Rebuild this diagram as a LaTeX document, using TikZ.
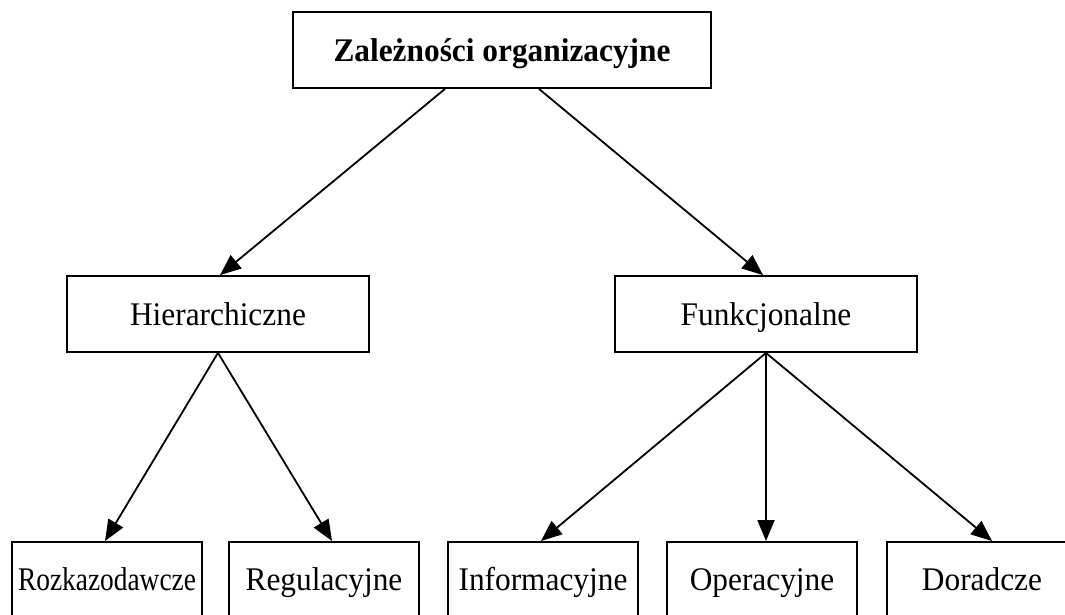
\documentclass[tikz,border=0pt]{standalone}
\usepackage{fontspec}
\setmainfont{Liberation Serif}
\usetikzlibrary{arrows.meta,calc}
% labels are set slightly condensed
\newcommand\condtext[2][0.95]{\scalebox{#1}[1]{#2}}
\begin{document}
\begin{tikzpicture}[x=1pt,y=-1pt,
  box/.style={draw, line width=1.8pt, minimum height=76pt, inner sep=0pt,
    text height=22pt, text depth=0pt, font=\fontsize{33}{38}\selectfont},
  midbox/.style={box, minimum width=302pt},
  leafbox/.style={box, minimum width=190pt, anchor=north},
  link/.style={line width=1.8pt, -{Triangle[length=21pt,width=17pt]}}]
\useasboundingbox (0,0) rectangle (1065,614);
\clip (0,0) rectangle (1065,614);
\fill[white] (0,0) rectangle (1065,614);

% top level
\node[box, minimum width=418pt, font=\fontsize{33}{38}\selectfont\bfseries]
  (root) at (502,50) {\condtext{Zależności organizacyjne}};

% second level
\node[midbox] (hier) at (218,314) {\condtext{Hierarchiczne}};
\node[midbox] (funk) at (766,314) {\condtext{Funkcjonalne}};

% third level
\node[leafbox] (rozk) at (107,541) {\condtext[0.83]{Rozkazodawcze}};
\node[leafbox] (regu) at (324,541) {\condtext{Regulacyjne}};
\node[leafbox] (info) at (543,541) {\condtext{Informacyjne}};
\node[leafbox] (oper) at (762,541) {\condtext{Operacyjne}};
\node[leafbox] (dora) at (982,541) {\condtext{Doradcze}};

% connectors
\draw[link] ($(root.south)+(-57,0)$) -- ($(hier.north)+(2,0)$);
\draw[link] ($(root.south)+(37,0)$) -- ($(funk.north)+(-3,0)$);

\draw[link] (hier.south) -- ($(rozk.north)+(-2,0)$);
\draw[link] (hier.south) -- ($(regu.north)+(8,0)$);

\draw[link] (funk.south) -- ($(info.north)+(-2,0)$);
\draw[link] (funk.south) -- (funk.south |- oper.north);
\draw[link] (funk.south) -- ($(dora.north)+(10,0)$);
\end{tikzpicture}
\end{document}
